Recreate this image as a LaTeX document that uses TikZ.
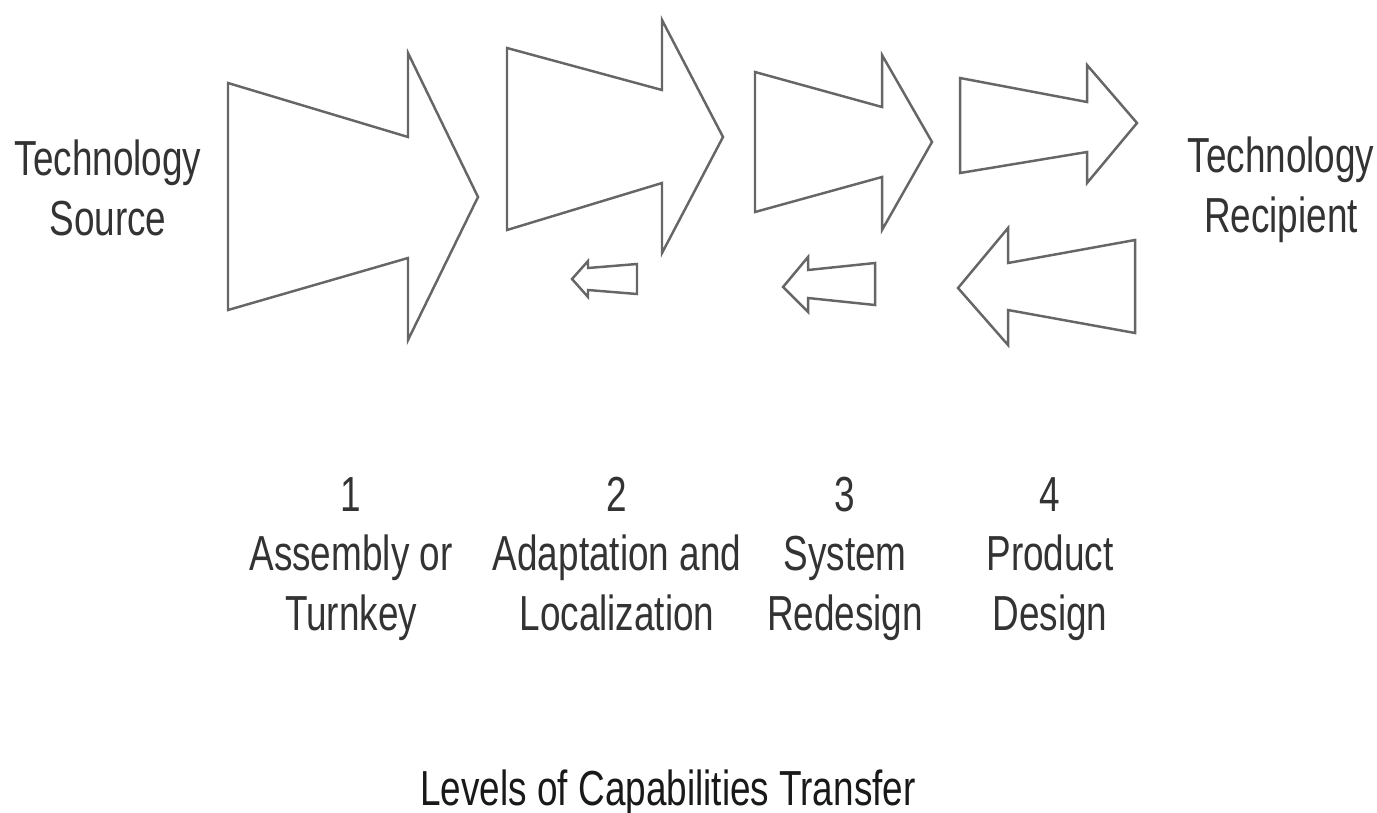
\documentclass[tikz,border=0pt]{standalone}
\usepackage{fontspec}
\setmainfont{Liberation Sans}[FakeStretch=0.75]
\usepackage{tikz}
\usetikzlibrary{positioning}
\tikzstyle{fleche}=[draw=black!60, line width=0.7pt, line join=miter]
\tikzstyle{texte}=[text=black!80, inner sep=0pt, align=center, anchor=base, font=\fontsize{14}{16.8}\selectfont]

\begin{document}
\begin{tikzpicture}[x=0.01cm, y=-0.01cm]
\useasboundingbox (0,0) rectangle (1377,812);

% fleches
\draw[fleche] (228,83) -- (408,137) -- (408,53) -- (478,197) -- (408,340) -- (408,258) -- (228,310) -- cycle;
\draw[fleche] (507,48) -- (662,90) -- (662,20) -- (723,137) -- (662,253) -- (662,183) -- (507,230) -- cycle;
\draw[fleche] (755,72) -- (882,107) -- (882,55) -- (932,142) -- (882,230) -- (882,177) -- (755,212) -- cycle;
\draw[fleche] (960,78) -- (1087,102) -- (1087,65) -- (1137,123) -- (1087,183) -- (1087,152) -- (960,173) -- cycle;

% retours
\draw[fleche] (572,279) -- (588,261) -- (588,268) -- (637,264) -- (637,294) -- (588,290) -- (588,297) -- cycle;
\draw[fleche] (783,287) -- (808,257) -- (808,270) -- (875,263) -- (875,305) -- (808,298) -- (808,312) -- cycle;
\draw[fleche] (958,288) -- (1008,228) -- (1008,263) -- (1135,240) -- (1135,333) -- (1008,310) -- (1008,345) -- cycle;

% texte (base = derniere ligne)
\node[texte] (source) at (108,235) {Technology\\Source};
\node[texte] (recipient) at (1281,232) {Technology\\Recipient};
\node[texte] (niveau1) at (351,630) {1\\Assembly or\\Turnkey};
\node[texte] (niveau2) at (617,630) {2\\Adaptation and\\Localization};
\node[texte] (niveau3) at (845,630) {3\\System\\Redesign};
\node[texte] (niveau4) at (1050,630) {4\\Product\\Design};
\node[texte, text=black!90] (titre) at (668,805) {Levels of Capabilities Transfer};

\end{tikzpicture}
\end{document}
